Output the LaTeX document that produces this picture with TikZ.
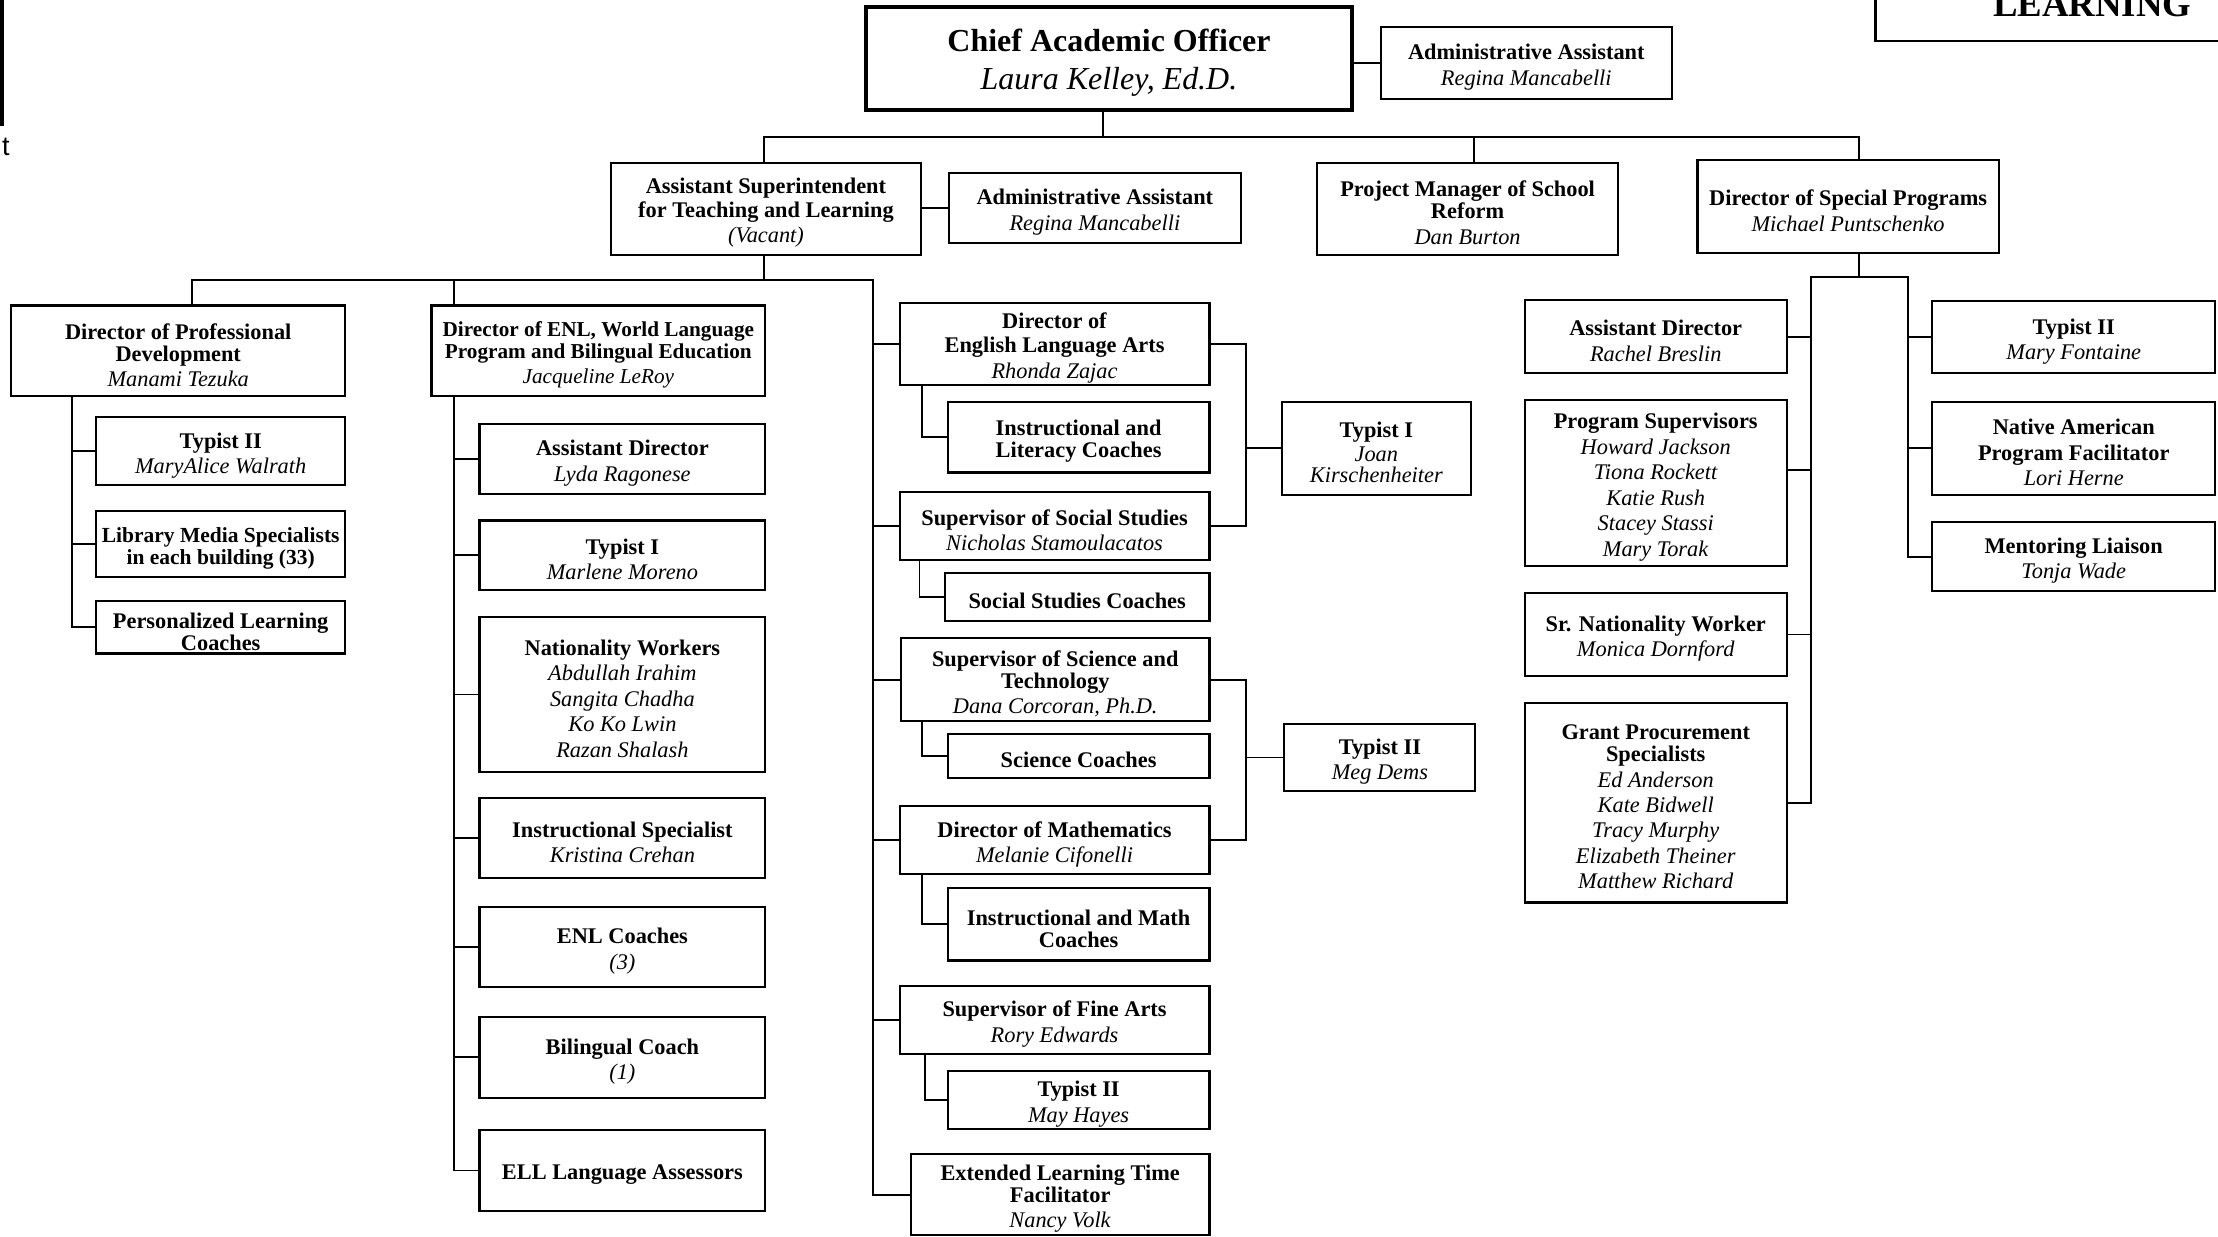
\documentclass[tikz,border=0pt]{standalone}
\usepackage{fontspec}
\setmainfont{Liberation Serif}
\newfontfamily\lsans{Liberation Sans}
\usetikzlibrary{calc}
\newcommand\ttl[1]{\textbf{#1}}
\newcommand\pnm[1]{\textit{#1}}
\newcommand\mkbox[7]{%
  \node[bx,#6,minimum width={#4pt-#2pt},minimum height={#5pt-#3pt}] (#1) at ({(#2+#4)/2},{(#3+#5)/2}) {};
  \node[bxt,#6] (#1t) at ({(#2+#4)/2},{(#3+#5)/2+3}) {#7};}
\begin{document}
\begin{tikzpicture}[x=1pt,y=-1pt,
  bx/.style={draw,line width=1.5pt,inner sep=0pt},
  bxt/.style={inner sep=0pt,align=center,font=\fontsize{15.8}{15.5}\selectfont},
  chiefbox/.style={line width=3pt,font=\fontsize{22.6}{27}\selectfont},
  cn/.style={line width=1.3pt}]
\useasboundingbox (0,0) rectangle (1568,874);
\clip (0,0) rectangle (1568,874);

% partial elements at the edges
\draw[line width=2.5pt] (-40,-20) rectangle (1.5,88);
\node[anchor=base east,inner sep=0pt,font=\lsans\fontsize{19}{19}\selectfont] (tleft) at (7,110) {t};
\draw[line width=1.8pt] (1326,-20) rectangle (1600,29);
\node[anchor=base,inner sep=0pt,font=\bfseries\fontsize{26}{26}\selectfont] (learn) at (1479,12) {LEARNING};

% top
\mkbox{chief}{612}{5}{956}{78}{chiefbox}{\ttl{Chief Academic Officer}\\\pnm{Laura Kelley, Ed.D.}}
\mkbox{aa1}{976}{19}{1182}{70}{}{\ttl{Administrative Assistant}\\[2.5pt]\pnm{Regina Mancabelli}}
\mkbox{asup}{432}{115}{651}{180}{}{\ttl{Assistant Superintendent}\\[1pt]\ttl{for Teaching and Learning}\\[2.5pt]\pnm{(Vacant)}}
\mkbox{aa2}{671}{122}{877}{172}{}{\ttl{Administrative Assistant}\\[2.5pt]\pnm{Regina Mancabelli}}
\mkbox{pm}{931}{115}{1144}{180}{}{\ttl{Project Manager of School}\\\ttl{Reform}\\[2.5pt]\pnm{Dan Burton}}
\mkbox{dsp}{1200}{113}{1413}{179}{}{\ttl{Director of Special Programs}\\[2.5pt]\pnm{Michael Puntschenko}}

% left column
\mkbox{dpd}{8}{216}{244}{280}{}{\ttl{Director of Professional}\\\ttl{Development}\\[2.5pt]\pnm{Manami Tezuka}}
\mkbox{t2a}{68}{295}{244}{343}{}{\ttl{Typist II}\\[2.5pt]\pnm{MaryAlice Walrath}}
\mkbox{lib}{68}{361}{244}{408}{font=\fontsize{15.2}{15.5}\selectfont}{\ttl{Library Media Specialists}\\\ttl{in each building (33)}}
\mkbox{plc}{68}{425}{244}{462}{}{\ttl{Personalized Learning}\\\ttl{Coaches}}

% ENL column
\mkbox{denl}{305}{216}{541}{280}{font=\fontsize{15}{15.5}\selectfont}{\ttl{Director of ENL, World Language}\\\ttl{Program and Bilingual Education}\\[2.5pt]\pnm{Jacqueline LeRoy}}
\mkbox{ad1}{339}{300}{541}{349}{}{\ttl{Assistant Director}\\[2.5pt]\pnm{Lyda Ragonese}}
\mkbox{ty1}{339}{368}{541}{417}{}{\ttl{Typist I}\\[2.5pt]\pnm{Marlene Moreno}}
\mkbox{nat}{339}{436}{541}{546}{}{\ttl{Nationality Workers}\\[2.5pt]\pnm{Abdullah Irahim}\\[2.5pt]\pnm{Sangita Chadha}\\[2.5pt]\pnm{Ko Ko Lwin}\\[2.5pt]\pnm{Razan Shalash}}
\mkbox{ins}{339}{564}{541}{621}{}{\ttl{Instructional Specialist}\\[2.5pt]\pnm{Kristina Crehan}}
\mkbox{enlc}{339}{641}{541}{698}{}{\ttl{ENL Coaches}\\[2.5pt]\pnm{(3)}}
\mkbox{bil}{339}{719}{541}{776}{}{\ttl{Bilingual Coach}\\[2.5pt]\pnm{(1)}}
\mkbox{ell}{339}{799}{541}{856}{}{\ttl{ELL Language Assessors}}

% middle column
\mkbox{ela}{636}{214}{855}{272}{}{\ttl{Director of}\\[1.5pt]\ttl{English Language Arts}\\[3pt]\pnm{Rhonda Zajac}}
\mkbox{ilc}{670}{284}{855}{334}{}{\ttl{Instructional and}\\\ttl{Literacy Coaches}}
\mkbox{sss}{636}{348}{855}{396}{}{\ttl{Supervisor of Social Studies}\\[2.5pt]\pnm{Nicholas Stamoulacatos}}
\mkbox{ssc}{668}{405}{855}{439}{}{\ttl{Social Studies Coaches}}
\mkbox{sst}{637}{451}{855}{510}{}{\ttl{Supervisor of Science and}\\\ttl{Technology}\\[2.5pt]\pnm{Dana Corcoran, Ph.D.}}
\mkbox{sc}{670}{519}{855}{550}{}{\ttl{Science Coaches}}
\mkbox{dm}{636}{570}{855}{618}{}{\ttl{Director of Mathematics}\\[2.5pt]\pnm{Melanie Cifonelli}}
\mkbox{imc}{670}{628}{855}{679}{}{\ttl{Instructional and Math}\\\ttl{Coaches}}
\mkbox{fa}{636}{697}{855}{745}{}{\ttl{Supervisor of Fine Arts}\\[2.5pt]\pnm{Rory Edwards}}
\mkbox{t2m}{670}{757}{855}{798}{}{\ttl{Typist II}\\[2.5pt]\pnm{May Hayes}}
\mkbox{elt}{644}{816}{855}{873}{}{\ttl{Extended Learning Time}\\\ttl{Facilitator}\\[2.5pt]\pnm{Nancy Volk}}
\mkbox{tj}{906}{284}{1040}{350}{}{\ttl{Typist I}\\[1pt]\pnm{Joan}\\\pnm{Kirschenheiter}}
\mkbox{tm}{908}{512}{1043}{559}{}{\ttl{Typist II}\\[2.5pt]\pnm{Meg Dems}}

% right column
\mkbox{ard}{1078}{212}{1263}{264}{}{\ttl{Assistant Director}\\[2.5pt]\pnm{Rachel Breslin}}
\mkbox{ps}{1078}{283}{1263}{400}{}{\ttl{Program Supervisors}\\[2.5pt]\pnm{Howard Jackson}\\[2.5pt]\pnm{Tiona Rockett}\\[2.5pt]\pnm{Katie Rush}\\[2.5pt]\pnm{Stacey Stassi}\\[2.5pt]\pnm{Mary Torak}}
\mkbox{snw}{1078}{419}{1263}{478}{}{\ttl{Sr. Nationality Worker}\\[2.5pt]\pnm{Monica Dornford}}
\mkbox{gps}{1078}{497}{1263}{638}{}{\ttl{Grant Procurement}\\\ttl{Specialists}\\[2.5pt]\pnm{Ed Anderson}\\[2.5pt]\pnm{Kate Bidwell}\\[2.5pt]\pnm{Tracy Murphy}\\[2.5pt]\pnm{Elizabeth Theiner}\\[2.5pt]\pnm{Matthew Richard}}
\mkbox{t2f}{1366}{213}{1566}{264}{}{\ttl{Typist II}\\[2.5pt]\pnm{Mary Fontaine}}
\mkbox{nap}{1366}{284}{1566}{350}{}{\ttl{Native American}\\[2.5pt]\ttl{Program Facilitator}\\[2.5pt]\pnm{Lori Herne}}
\mkbox{mlz}{1366}{369}{1566}{418}{}{\ttl{Mentoring Liaison}\\[2.5pt]\pnm{Tonja Wade}}

% connectors: top
\coordinate (bt) at (780,97);
\coordinate (bl) at (540,97);
\coordinate (bp) at (1042,97);
\coordinate (br) at (1314,97);
\draw[cn] (bt |- chief.south) -- (bt);
\draw[cn] (bl |- asup.north) -- (bl) -- (br) -- (br |- dsp.north);
\draw[cn] (bp) -- (bp |- pm.north);
\draw[cn] (chief.east |- aa1.west) -- (aa1.west);
\draw[cn] (asup.east |- aa2.west) -- (aa2.west);

% second level bus
\coordinate (ms) at (540,198);
\coordinate (mlft) at (136,198);
\coordinate (me) at (321,198);
\coordinate (mr) at (617,198);
\draw[cn] (ms |- asup.south) -- (ms);
\draw[cn] (mlft |- dpd.north) -- (mlft) -- (mr) |- (elt.west);
\draw[cn] (me) -- (me |- denl.north);

% left
\coordinate (lv) at (51,0);
\draw[cn] (lv |- dpd.south) |- (plc.west);
\foreach \nn in {t2a,lib} \draw[cn] (lv |- \nn.west) -- (\nn.west);

% ENL
\draw[cn] (me |- denl.south) |- (ell.west);
\foreach \nn in {ad1,ty1,nat,ins,enlc,bil} \draw[cn] (me |- \nn.west) -- (\nn.west);

% middle
\foreach \nn in {ela,sss,sst,dm,fa} \draw[cn] (mr |- \nn.west) -- (\nn.west);
\coordinate (s1) at (652,0); \draw[cn] (s1 |- ela.south) |- (ilc.west);
\coordinate (s2) at (650,0); \draw[cn] (s2 |- sss.south) |- (ssc.west);
\coordinate (s3) at (652,0); \draw[cn] (s3 |- sst.south) |- (sc.west);
\coordinate (s4) at (652,0); \draw[cn] (s4 |- dm.south) |- (imc.west);
\coordinate (s5) at (654,0); \draw[cn] (s5 |- fa.south) |- (t2m.west);
\coordinate (tx) at (881,0);
\draw[cn] (ela.east) -| (tx |- sss.east) -- (sss.east);
\draw[cn] (tx |- tj.west) -- (tj.west);
\draw[cn] (sst.east) -| (tx |- dm.east) -- (dm.east);
\draw[cn] (tx |- tm.west) -- (tm.west);

% right
\coordinate (rt) at (1314,196);
\coordinate (rl) at (1280,196);
\coordinate (rr) at (1349,196);
\draw[cn] (rt |- dsp.south) -- (rt);
\draw[cn] (gps.east) -| (rl) -- (rr) |- (mlz.west);
\coordinate (pj) at (1280,332);
\draw[cn] (pj) -- (pj -| ps.east);
\foreach \nn in {ard,snw} \draw[cn] (rl |- \nn.east) -- (\nn.east);
\foreach \nn in {t2f,nap} \draw[cn] (rr |- \nn.west) -- (\nn.west);
\end{tikzpicture}
\end{document}
